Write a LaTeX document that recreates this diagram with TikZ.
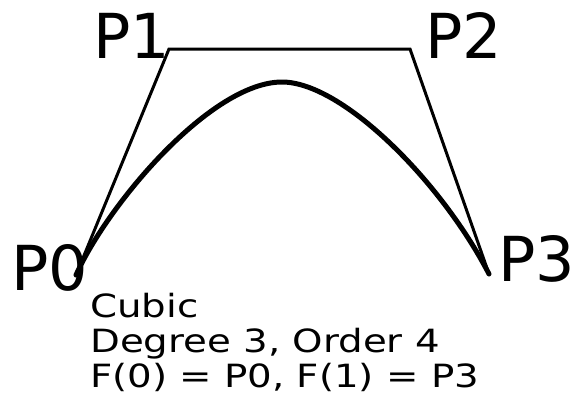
\documentclass[tikz,border=0pt]{standalone}
\usepackage{fontspec}
\setmainfont{DejaVu Sans}
\begin{document}
\begin{tikzpicture}[x=1pt,y=-1pt,
  ctrl/.style={line width=3pt},
  curvel/.style={line width=5pt,line cap=round,line join=round},
  bigl/.style={inner sep=0pt,anchor=base west,font=\fontsize{62}{62}\selectfont},
  txt/.style={inner sep=0pt,anchor=base west,font=\fontsize{32}{35}\selectfont,xscale=1.21}]
\useasboundingbox (0,0) rectangle (576,418);
\coordinate (p0) at (76,275);
\coordinate (p1) at (169,49);
\coordinate (p2) at (410,49);
\coordinate (p3) at (489,274);
\coordinate (pk) at (282,82);
\draw[ctrl] (p0) -- (p1) -- (p2) -- (p3);
\draw[curvel] (p0) .. controls (109,202) and (212,82) .. (pk)
  .. controls (342,82) and (441,181) .. (p3);
\node[bigl] (l0) at (11,290) {P0};
\node[bigl] (l1) at (93,58) {P1};
\node[bigl] (l2) at (425,58) {P2};
\node[bigl] (l3) at (498,281) {P3};
\node[txt] (t1) at (90,317) {Cubic};
\node[txt] (t2) at (90,352) {Degree 3, Order 4};
\node[txt] (t3) at (90,387) {F(0) = P0, F(1) = P3};
\end{tikzpicture}
\end{document}
